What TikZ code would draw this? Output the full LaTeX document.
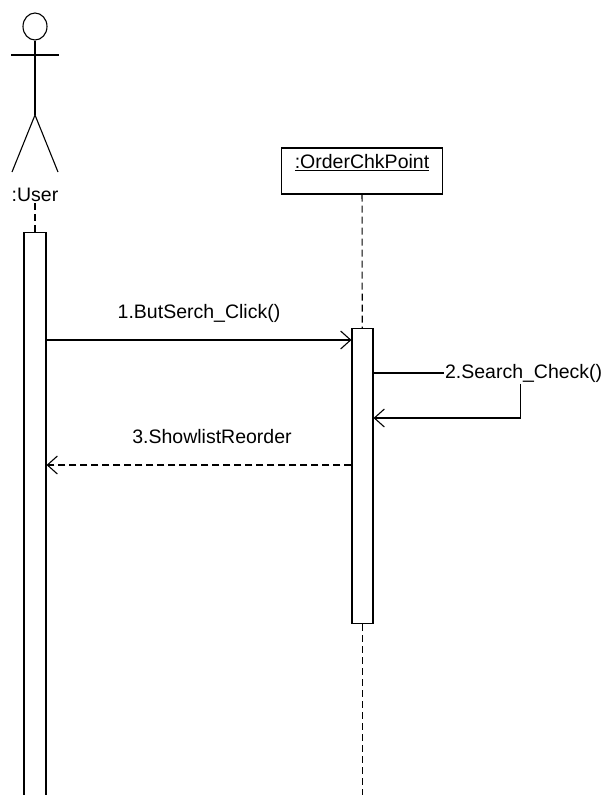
\documentclass[tikz,border=0pt]{standalone}
\usepackage{fontspec}
\setmainfont{Liberation Sans}
\usetikzlibrary{positioning, arrows.meta, shapes.geometric}

\begin{document}
\begin{tikzpicture}
[x=1pt,y=-1pt,line width=1.1pt,
                    msg/.style={-{Straight Barb[length=10pt,width=18pt,line width=1.1pt]}},
                    reply/.style={msg,dash pattern=on 7pt off 4pt},
                    lifeline/.style={dash pattern=on 7pt off 4pt},
                    bar/.style={draw,fill=white,minimum width=22pt,inner sep=0pt},
                    txt/.style={font=\fontsize{19.5}{23}\selectfont,inner sep=1pt}]
\useasboundingbox (0,0) rectangle (605,795);
% actor
\node[ellipse,draw,minimum width=24pt,minimum height=27pt,inner sep=0pt] (head) at (35,26.5) {};
\coordinate (hip) at (35,115);
\draw (head.south) -- (hip);
\draw (11,55) -- (59,55);
\draw (12,172) -- (hip) -- (58,172);
\node[txt] (user) at (35,195) {:User};
\node[bar, minimum height=580pt, anchor=north] (userbar) at (35,232) {};

% object
\node[draw, minimum width=161pt, minimum height=46pt] (chk) at (362,171) {};
\node[txt, below=5pt of chk.north] (chklabel) {\underline{:OrderChkPoint}};
\node[bar, minimum width=21pt, minimum height=295pt, anchor=north] (chkbar) at (362.5,328) {};
\coordinate (chkend) at (362.5,800);

\draw[lifeline] (user) -- (userbar);
\draw[lifeline] (chk) -- (chkbar);
\draw[lifeline] (chkbar) -- (chkend);

% messages
\coordinate (m1) at ([yshift=-12pt]chkbar.north west);
\draw[msg] (userbar.east |- m1) -- node[txt, above=16pt] (m1label) {1.ButSerch\_Click()} (m1);

\coordinate (s2) at ([yshift=-45pt]chkbar.north east);
\node[txt, anchor=west] (m2label) at ([xshift=70pt]s2) {2.Search\_Check()};
\draw (s2) -- (m2label.west);
\draw[msg] ([xshift=77pt]m2label.south west) |- ([yshift=-90pt]chkbar.north east);

\coordinate (r3) at ([yshift=-137pt]chkbar.north west);
\draw[reply] (r3) -- node[txt, above=20pt, xshift=13pt] (r3label) {3.ShowlistReorder} (userbar.east |- r3);
\end{tikzpicture}
\end{document}
